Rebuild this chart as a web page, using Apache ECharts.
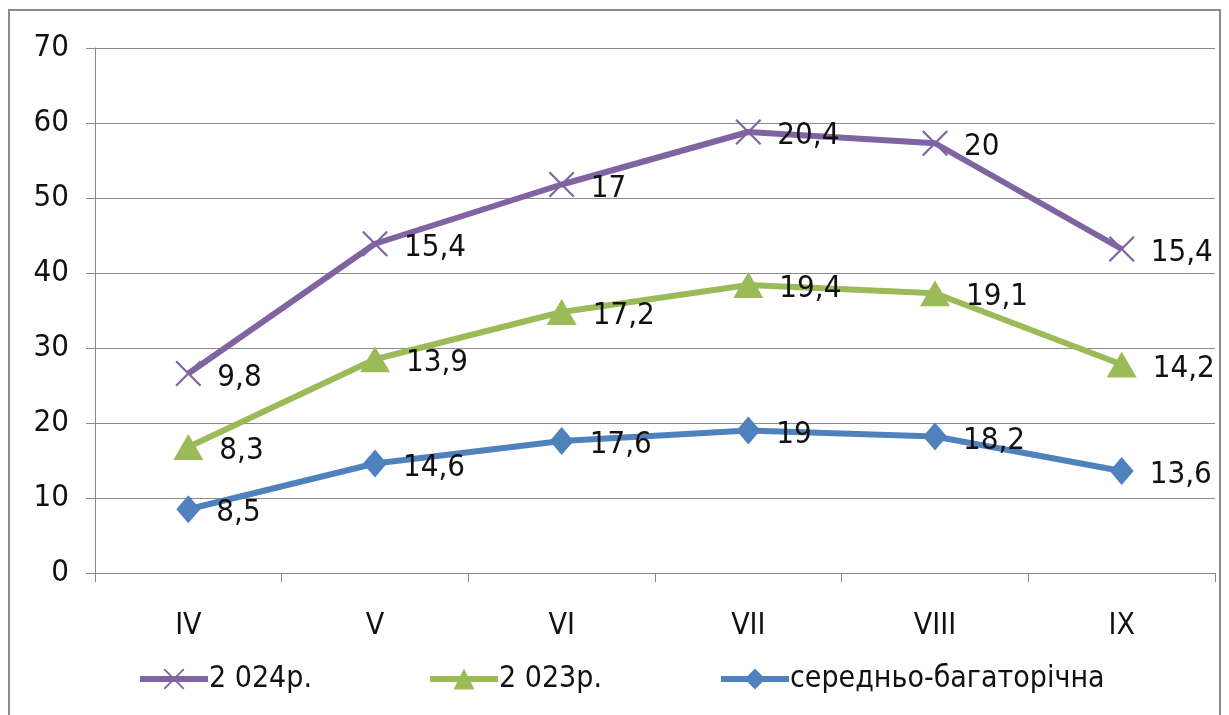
<!DOCTYPE html>
<html>
<head>
<meta charset="utf-8">
<script src="https://cdn.jsdelivr.net/npm/echarts@6/dist/echarts.min.js"></script>
<style>
  html, body { margin: 0; padding: 0; background: #fff; }
  #frame { position: absolute; left: 8px; top: 9px; width: 1213px; height: 710px; border: 2px solid #8a8a8a; box-sizing: border-box; }
  #chart { position: absolute; left: 0; top: 0; width: 1229px; height: 715px; }
</style>
</head>
<body>
<div id="frame"></div>
<div id="chart"></div>
<script>
// Months (Roman numerals)
const months = ['IV', 'V', 'VI', 'VII', 'VIII', 'IX'];
// Stacked series values (each series stacked onto the one below)
const avgLongTerm = [8.5, 14.6, 17.6, 19, 18.2, 13.6];
const year2023 = [8.3, 13.9, 17.2, 19.4, 19.1, 14.2];
const year2024 = [9.8, 15.4, 17, 20.4, 20, 15.4];
const yTicks = { min: 0, max: 70, interval: 10 };

const FONT = '"Liberation Sans Narrow", "DejaVu Sans Condensed", "Liberation Sans", sans-serif';
const crossPath = 'path://M0,1.2 L1.2,0 L10,8.8 L18.8,0 L20,1.2 L11.2,10 L20,18.8 L18.8,20 L10,11.2 L1.2,20 L0,18.8 L8.8,10 Z';

function fmt(p) { return String(p.value).replace('.', ','); }

const labelCfg = {
  show: true,
  position: 'right',
  distance: 16,
  offset: [0, 4],
  color: '#111',
  fontFamily: FONT,
  fontSize: 31,
  formatter: fmt
};

function mkSeries(name, data, color, symbol, size) {
  return {
    name: name,
    type: 'line',
    stack: 'total',
    data: data,
    symbol: symbol,
    symbolSize: size,
    showAllSymbol: true,
    lineStyle: { color: color, width: 6 },
    itemStyle: { color: color },
    label: labelCfg,
    emphasis: { disabled: true },
    animation: false,
    z: 3
  };
}

function mkLegend(name, left) {
  return {
    data: [name],
    left: left,
    top: 659,
    itemWidth: 68,
    itemHeight: 26,
    lineStyle: { width: 6 },
    textStyle: { fontFamily: FONT, fontSize: 30, color: '#111', padding: [0, 0, 0, -4] }
  };
}

const chart = echarts.init(document.getElementById('chart'));
chart.setOption({
  backgroundColor: 'transparent',
  animation: false,
  grid: { left: 95, right: 14, top: 48, bottom: 142 },
  legend: [
    mkLegend('2 024р.', 132),
    mkLegend('2 023р.', 422),
    mkLegend('середньо-багаторічна', 713)
  ],
  xAxis: {
    type: 'category',
    data: months,
    boundaryGap: true,
    axisLine: { lineStyle: { color: '#888', width: 1 } },
    axisTick: { show: true, length: 9, lineStyle: { color: '#888' } },
    axisLabel: { color: '#111', fontFamily: FONT, fontSize: 30, margin: 38 }
  },
  yAxis: {
    type: 'value',
    min: yTicks.min,
    max: yTicks.max,
    interval: yTicks.interval,
    axisLine: { show: true, lineStyle: { color: '#888', width: 1 } },
    axisTick: { show: true, length: 9, lineStyle: { color: '#888' } },
    splitLine: { lineStyle: { color: '#8c8c8c', width: 1 } },
    axisLabel: { color: '#111', fontFamily: FONT, fontSize: 31, margin: 26 }
  },
  series: [
    mkSeries('середньо-багаторічна', avgLongTerm, '#4F81BD', 'diamond', [24, 28]),
    mkSeries('2 023р.', year2023, '#9BBB59', 'triangle', [30, 26]),
    mkSeries('2 024р.', year2024, '#8064A2', crossPath, [26, 26])
  ]
});
</script>
</body>
</html>
